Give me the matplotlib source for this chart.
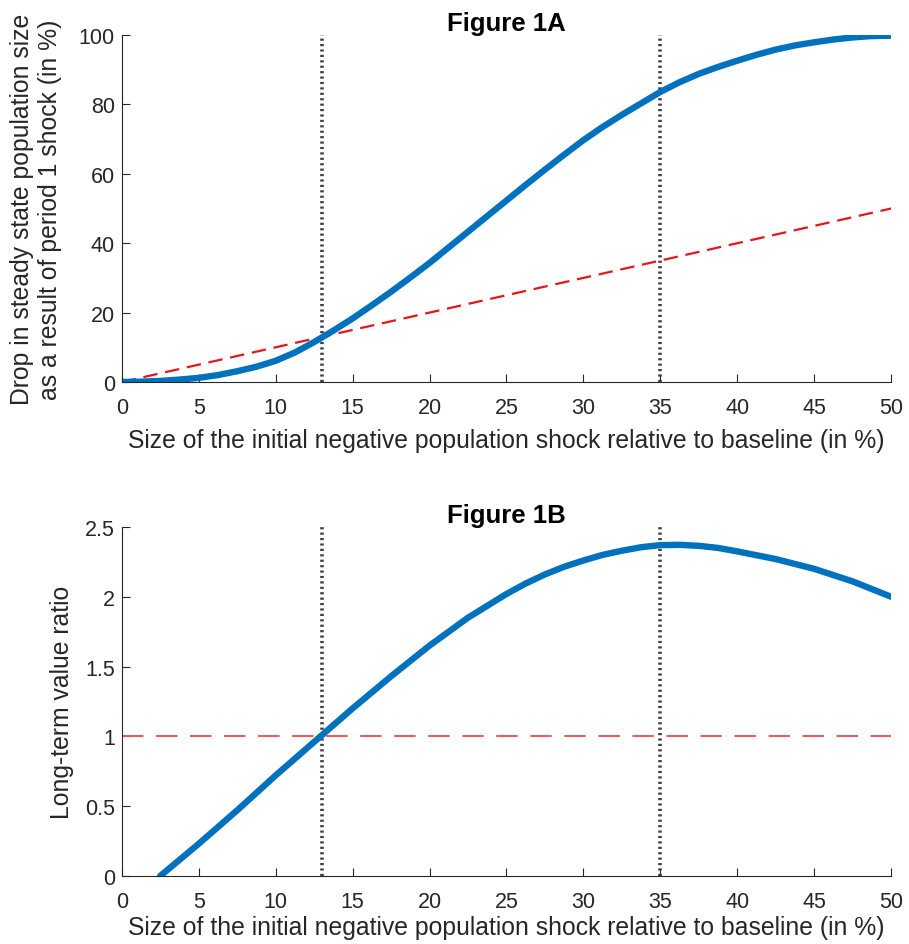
import matplotlib
matplotlib.use("Agg")
import matplotlib.pyplot as plt

plt.rcParams['font.family'] = ['Liberation Sans', 'DejaVu Sans']

# Data
shock = [0, 1.25, 2.5, 3.75, 5, 6.25, 7.5, 8.75, 10, 11.25, 12.5, 13.75, 15,
         16.25, 17.5, 18.75, 20, 21.25, 22.5, 23.75, 25, 26.25, 27.5, 28.75,
         30, 31.25, 32.5, 33.75, 35, 36.25, 37.5, 38.75, 40, 41.25, 42.5,
         43.75, 45, 46.25, 47.5, 48.75, 50]
drop_ss = [0, 0.1, 0.3, 0.7, 1.2, 2.0, 3.1, 4.4, 6.1, 8.5, 11.5, 14.8, 18.3,
           22.1, 26.0, 30.1, 34.3, 38.8, 43.3, 47.8, 52.3, 56.8, 61.2, 65.5,
           69.7, 73.5, 77.0, 80.3, 83.6, 86.4, 88.8, 90.8, 92.6, 94.3, 95.8,
           97.0, 97.9, 98.7, 99.3, 99.7, 99.8]
ref_x = [0, 50]
ref_line = [0, 50]            # red dashed y = x line

shock_b = [2.5, 5, 7.5, 10, 12.5, 15, 17.5, 20, 22.5, 25, 26.25, 27.5, 28.75,
           30, 31.25, 32.5, 33.75, 35, 36.25, 37.5, 38.75, 40, 42.5, 45, 47.5, 50]
ratio = [0.0, 0.23, 0.47, 0.72, 0.96, 1.20, 1.43, 1.65, 1.85, 2.02, 2.095, 2.16, 2.215,
         2.26, 2.30, 2.33, 2.355, 2.37, 2.372, 2.365, 2.35, 2.325, 2.27, 2.20, 2.11, 2.00]
ratio_ref = 1.0
vlines = [13, 35]

xticks = [0, 5, 10, 15, 20, 25, 30, 35, 40, 45, 50]
yticks_a = [0, 20, 40, 60, 80, 100]
yticks_b = [0, 0.5, 1, 1.5, 2, 2.5]
yticklabels_b = ['0', '0.5', '1', '1.5', '2', '2.5']

blue = '#0072BD'
dark = '#262626'
xlabel = 'Size of the initial negative population shock relative to baseline (in %)'
TICK = 15.5
LAB = 17.8
TITLE = 18.5

fig = plt.figure(figsize=(9.09, 9.45), dpi=100)
axA = fig.add_axes([0.1339, 0.5947, 0.8465, 0.3672])
axB = fig.add_axes([0.1339, 0.0720, 0.8465, 0.3693])

def style(ax):
    for s in ['top', 'right']:
        ax.spines[s].set_visible(False)
    for s in ['left', 'bottom']:
        ax.spines[s].set_color(dark)
        ax.spines[s].set_linewidth(0.8)
        ax.spines[s].set_zorder(5)
    ax.tick_params(direction='in', length=6, width=0.8, colors=dark,
                   labelsize=TICK)
    ax.tick_params(axis='x', pad=11)
    ax.tick_params(axis='y', pad=5)
    ax.set_xlim(0, 50)
    ax.set_xticks(xticks)

# Figure 1A
style(axA)
axA.set_ylim(0, 100)
axA.set_yticks(yticks_a)
for v in vlines:
    axA.plot([v, v], [0, 100], color='#404040', lw=2.6, ls=(0, (0.6, 0.9)), zorder=2)
axA.plot(ref_x, ref_line, color='#e8141b', lw=1.6, ls=(0, (6.5, 3.5)), zorder=3)
axA.plot(shock, drop_ss, color=blue, lw=4.6, solid_capstyle='round',
         solid_joinstyle='round', zorder=4)
axA.set_title('Figure 1A', fontsize=TITLE, fontweight='bold', color='black', pad=3)
axA.set_xlabel(xlabel, fontsize=LAB, color=dark, labelpad=7)
axA.set_ylabel('Drop in steady state population size\nas a result of period 1 shock (in %)',
               fontsize=LAB, color=dark, labelpad=12, linespacing=1.22)

# Figure 1B
style(axB)
axB.set_ylim(0, 2.5)
axB.set_yticks(yticks_b)
axB.set_yticklabels(yticklabels_b)
for v in vlines:
    axB.plot([v, v], [0, 2.5], color='#404040', lw=2.6, ls=(0, (0.6, 0.9)), zorder=2)
axB.plot([0, 50], [ratio_ref, ratio_ref], color='#f0545a', lw=1.4, ls=(0, (11, 6.5)), zorder=3)
axB.plot(shock_b, ratio, color=blue, lw=4.6, solid_capstyle='round',
         solid_joinstyle='round', zorder=4)
axB.set_title('Figure 1B', fontsize=TITLE, fontweight='bold', color='black', pad=3)
axB.set_xlabel(xlabel, fontsize=LAB, color=dark, labelpad=2)
axB.set_ylabel('Long-term value ratio', fontsize=LAB, color=dark, labelpad=8)

fig.savefig('out.png', dpi=100)
